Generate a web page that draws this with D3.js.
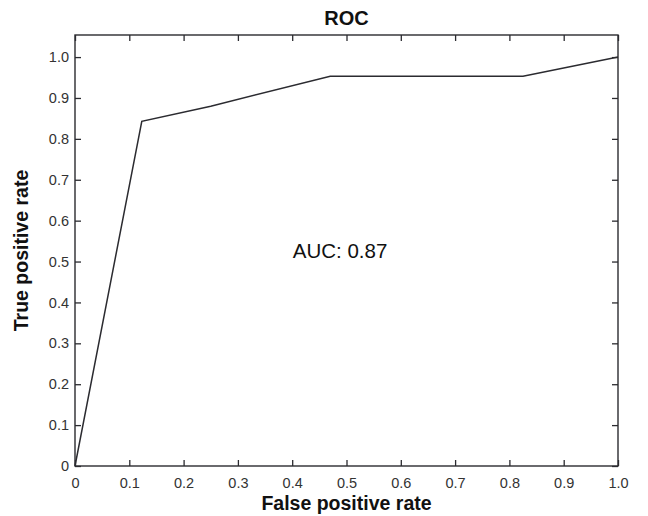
<!DOCTYPE html>
<html>
<head>
  <meta charset="UTF-8">
  <title>ROC</title>
  <script src="https://cdn.jsdelivr.net/npm/d3@7"></script>
  <style type="text/css">
    body { margin: 0; background: #fff; }
    text { font-family: "Liberation Sans", Arial, sans-serif; }
  </style>
</head>
<body>
<script type="text/javascript">

  // data
  var fpr = [0, 0.123, 0.25, 0.47, 0.825, 1.0];
  var tpr = [0, 0.843, 0.88, 0.953, 0.953, 1.0];
  var xTicks = [0, 0.1, 0.2, 0.3, 0.4, 0.5, 0.6, 0.7, 0.8, 0.9, 1.0];
  var yTicks = [0, 0.1, 0.2, 0.3, 0.4, 0.5, 0.6, 0.7, 0.8, 0.9, 1.0];
  var aucText = "AUC: 0.87";

  var W = 648, H = 516;
  var margin = {top: 35, right: 30, bottom: 50, left: 75};
  var width = W - margin.left - margin.right,
      height = H - margin.top - margin.bottom;

  var x = d3.scaleLinear().domain([0, 1]).range([0, width]);
  var y = d3.scaleLinear().domain([0, 1.054]).range([height, 0]);

  var fmt = function (d) { return d === 0 ? "0" : d3.format(".1f")(d); };

  var svg = d3.select("body").append("svg")
      .attr("width", W)
      .attr("height", H);

  var g = svg.append("g")
      .attr("transform", "translate(" + margin.left + "," + margin.top + ")");

  var ink = "#2b2b30";

  // box
  g.append("rect")
      .attr("width", width).attr("height", height)
      .attr("fill", "none").attr("stroke", ink).attr("stroke-width", 1.4);

  // bottom axis, ticks inward
  var xa = g.append("g")
      .attr("transform", "translate(0," + height + ")")
      .call(d3.axisBottom(x).tickValues(xTicks).tickFormat(fmt).tickSizeInner(-6).tickSizeOuter(0).tickPadding(12));
  // top ticks
  var xt = g.append("g")
      .call(d3.axisTop(x).tickValues(xTicks).tickFormat("").tickSizeInner(-6).tickSizeOuter(0));
  // left axis
  var ya = g.append("g")
      .call(d3.axisLeft(y).tickValues(yTicks).tickFormat(fmt).tickSizeInner(-6).tickSizeOuter(0).tickPadding(6));
  // right ticks
  var yr = g.append("g")
      .attr("transform", "translate(" + width + ",0)")
      .call(d3.axisRight(y).tickValues(yTicks).tickFormat("").tickSizeInner(-6).tickSizeOuter(0));

  [xa, xt, ya, yr].forEach(function (a) {
    a.select(".domain").remove();
    a.selectAll("line").attr("stroke", ink).attr("stroke-width", 1.3);
    a.selectAll("text").attr("fill", "#333").style("font-size", "14.5px")
      .style("font-family", "'Liberation Sans', Arial, sans-serif");
  });

  // ROC curve
  var pts = fpr.map(function (d, i) { return [d, tpr[i]]; });
  var line = d3.line()
      .x(function (d) { return x(d[0]); })
      .y(function (d) { return y(d[1]); });
  g.append("path")
      .attr("d", line(pts))
      .attr("fill", "none")
      .attr("stroke", ink)
      .attr("stroke-width", 1.5);

  // AUC label
  g.append("text")
      .attr("x", x(0.401))
      .attr("y", y(0.525))
      .attr("dy", "0.35em")
      .attr("fill", "#111")
      .style("font-size", "20.5px")
      .text(aucText);

  // title
  svg.append("text")
      .attr("x", margin.left + width / 2)
      .attr("y", 25)
      .attr("text-anchor", "middle")
      .attr("fill", "#111")
      .style("font-size", "20px")
      .style("font-weight", "bold")
      .text("ROC");

  // axis labels
  svg.append("text")
      .attr("x", margin.left + width / 2)
      .attr("y", 510)
      .attr("text-anchor", "middle")
      .attr("fill", "#111")
      .style("font-size", "19.5px")
      .style("font-weight", "bold")
      .text("False positive rate");

  svg.append("text")
      .attr("transform", "translate(28," + (margin.top + height / 2) + ") rotate(-90)")
      .attr("text-anchor", "middle")
      .attr("fill", "#111")
      .style("font-size", "19.5px")
      .style("font-weight", "bold")
      .text("True positive rate");

</script>
</body>
</html>
